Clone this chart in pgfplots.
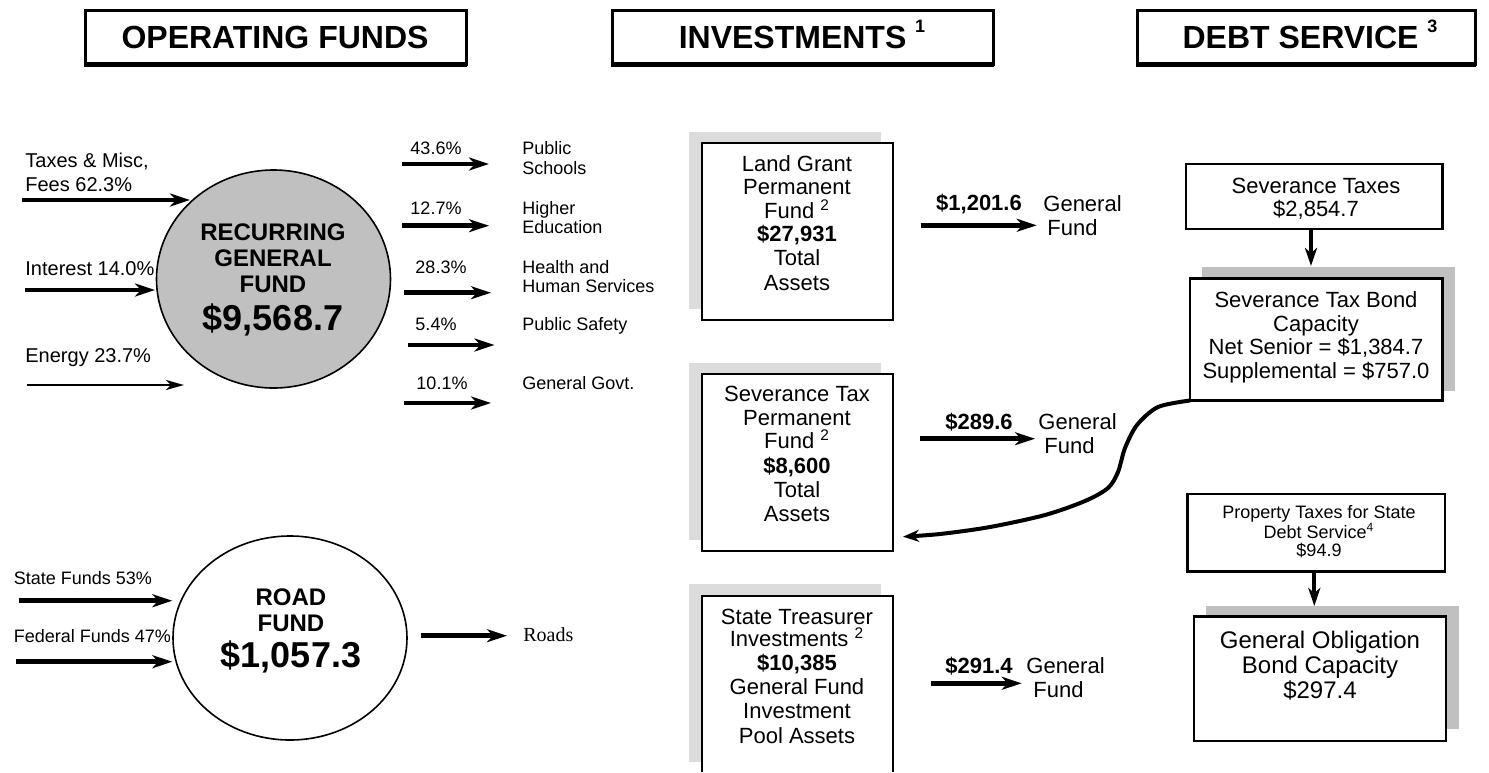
\documentclass[border=0pt]{standalone}
\usepackage{fontspec}
\setmainfont{Liberation Sans}
\newfontfamily\seriffont{Liberation Serif}
\usepackage{pgfplots}
\pgfplotsset{compat=1.18}
\usetikzlibrary{arrows.meta}
\definecolor{shadelight}{HTML}{DCDCDC}
\definecolor{shadedark}{HTML}{C0C0C0}
\definecolor{fundgray}{HTML}{C0C0C0}
\newcommand\fs[2]{\fontsize{#1}{#2}\selectfont}
\newcommand\tsup[1]{\raisebox{0.5em}{\fs{9}{9}#1}}
\tikzset{
  bigarr/.style={line width=2.3pt,-{Stealth[length=10pt,width=6.5pt,inset=3pt]}},
  thinarr/.style={line width=1.2pt,-{Stealth[length=9pt,width=5pt,inset=2.5pt]}},
  downarr/.style={line width=2pt,-{Stealth[length=9pt,width=6pt,inset=2.5pt]}},
  t/.style={anchor=base,inner sep=0pt},
  tw/.style={anchor=base west,inner sep=0pt}}
\begin{document}
\begin{tikzpicture}
\begin{axis}[width=744.5pt,height=386pt,scale only axis,
  xmin=0,xmax=1489,ymin=0,ymax=772,y dir=reverse,hide axis,clip=false]
\addplot[draw=none] coordinates {(0,0) (1489,772)};
% ---------- title boxes
\draw[line width=1.5pt] (axis cs:85,10) rectangle (axis cs:466,64);
\draw[line width=2.5pt] (axis cs:84,64.5) -- (axis cs:467,64.5);
\draw[line width=1.5pt] (axis cs:612,10) rectangle (axis cs:993,64);
\draw[line width=2.5pt] (axis cs:611,64.5) -- (axis cs:994,64.5);
\draw[line width=1.5pt] (axis cs:1137,10) rectangle (axis cs:1475,64);
\draw[line width=2.5pt] (axis cs:1136,64.5) -- (axis cs:1476,64.5);
\node[t,font=\fs{16}{18}\bfseries] at (axis cs:275,48.5) {OPERATING FUNDS};
\node[t,font=\fs{16}{18}\bfseries] at (axis cs:802,48.5) {INVESTMENTS \tsup{1}};
\node[t,font=\fs{16}{18}\bfseries] at (axis cs:1310,48.5) {DEBT SERVICE \tsup{3}};
% ---------- recurring general fund
\draw[fill=fundgray,line width=0.8pt] (axis cs:273.5,279) ellipse [x radius=117, y radius=109];
\node[t,font=\fs{12}{14}\bfseries] at (axis cs:273,240) {RECURRING};
\node[t,font=\fs{12}{14}\bfseries] at (axis cs:273,266.3) {GENERAL};
\node[t,font=\fs{12}{14}\bfseries] at (axis cs:273,292) {FUND};
\node[t,font=\fs{18}{20}\bfseries] at (axis cs:273,330.3) {\$9,568.7};
\node[tw,font=\fs{10}{12}] at (axis cs:25,167) {Taxes \& Misc,};
\node[tw,font=\fs{10}{12}] at (axis cs:25,191) {Fees 62.3\%};
\node[tw,font=\fs{10}{12}] at (axis cs:25,275) {Interest 14.0\%};
\node[tw,font=\fs{10}{12}] at (axis cs:25,362) {Energy 23.7\%};
\addplot[bigarr] coordinates {(22,200) (190,200)};
\addplot[bigarr] coordinates {(25,290) (155,290)};
\addplot[thinarr] coordinates {(27,385) (184,385)};
% outputs
\addplot[bigarr] coordinates {(402,164) (489,164)};
\addplot[bigarr] coordinates {(402,225.7) (489,225.7)};
\addplot[bigarr] coordinates {(404,292.7) (491,292.7)};
\addplot[bigarr] coordinates {(407.5,345) (494.5,345)};
\addplot[bigarr] coordinates {(404,403) (491,403)};
\node[t,font=\fs{9}{10}] at (axis cs:436,154.5) {43.6\%};
\node[t,font=\fs{9}{10}] at (axis cs:436,214.5) {12.7\%};
\node[t,font=\fs{9}{10}] at (axis cs:441,273.5) {28.3\%};
\node[t,font=\fs{9}{10}] at (axis cs:436,330.5) {5.4\%};
\node[t,font=\fs{9}{10}] at (axis cs:442,389.5) {10.1\%};
\node[tw,font=\fs{9}{10}] at (axis cs:522,154.5) {Public};
\node[tw,font=\fs{9}{10}] at (axis cs:522,174.5) {Schools};
\node[tw,font=\fs{9}{10}] at (axis cs:522,214.5) {Higher};
\node[tw,font=\fs{9}{10}] at (axis cs:522,233.5) {Education};
\node[tw,font=\fs{9}{10}] at (axis cs:522,273.5) {Health and};
\node[tw,font=\fs{9}{10}] at (axis cs:522,292.5) {Human Services};
\node[tw,font=\fs{9}{10}] at (axis cs:522,330.5) {Public Safety};
\node[tw,font=\fs{9}{10}] at (axis cs:522,389.5) {General Govt.};
% ---------- road fund
\draw[fill=white,line width=0.8pt] (axis cs:290,638) ellipse [x radius=117, y radius=102];
\node[t,font=\fs{12}{14}\bfseries] at (axis cs:291,605.3) {ROAD};
\node[t,font=\fs{12}{14}\bfseries] at (axis cs:291,631) {FUND};
\node[t,font=\fs{18}{20}\bfseries] at (axis cs:291,667) {\$1,057.3};
\node[tw,font=\fs{9}{10}] at (axis cs:13.5,584.5) {State Funds 53\%};
\node[tw,font=\fs{9}{10}] at (axis cs:13.5,642.2) {Federal Funds 47\%};
\addplot[bigarr] coordinates {(18.6,600.7) (172.3,600.7)};
\addplot[bigarr] coordinates {(15.5,661.7) (172.3,661.7)};
\addplot[bigarr] coordinates {(421,635.7) (507,635.7)};
\node[tw,font=\fs{10}{12}\seriffont] at (axis cs:523,641) {Roads};
% ---------- investments
\fill[shadelight] (axis cs:689,131.7) rectangle (axis cs:881,309);
\draw[fill=white,line width=0.9pt] (axis cs:702,142.7) rectangle (axis cs:892.7,320);
\fill[shadelight] (axis cs:689,362.7) rectangle (axis cs:881,540);
\draw[fill=white,line width=0.9pt] (axis cs:702,374) rectangle (axis cs:892.7,550.7);
\fill[shadelight] (axis cs:689,584) rectangle (axis cs:881,762);
\fill[white] (axis cs:702,595.7) rectangle (axis cs:892.7,772);
\draw[line width=0.9pt] (axis cs:702,772) -- (axis cs:702,595.7) -- (axis cs:892.7,595.7) -- (axis cs:892.7,772);
\node[t,font=\fs{11}{12}] at (axis cs:797,171.3) {Land Grant};
\node[t,font=\fs{11}{12}] at (axis cs:797,194.7) {Permanent};
\node[t,font=\fs{11}{12}] at (axis cs:797,218) {Fund \textsuperscript{2}};
\node[t,font=\fs{11}{12}\bfseries] at (axis cs:797,241) {\$27,931};
\node[t,font=\fs{11}{12}] at (axis cs:797,265.7) {Total};
\node[t,font=\fs{11}{12}] at (axis cs:797,290) {Assets};
\node[t,font=\fs{11}{12}] at (axis cs:797,401.3) {Severance Tax};
\node[t,font=\fs{11}{12}] at (axis cs:797,425.3) {Permanent};
\node[t,font=\fs{11}{12}] at (axis cs:797,448.7) {Fund \textsuperscript{2}};
\node[t,font=\fs{11}{12}\bfseries] at (axis cs:797,473) {\$8,600};
\node[t,font=\fs{11}{12}] at (axis cs:797,497) {Total};
\node[t,font=\fs{11}{12}] at (axis cs:797,521.3) {Assets};
\node[t,font=\fs{11}{12}] at (axis cs:797,624) {State Treasurer};
\node[t,font=\fs{11}{12}] at (axis cs:797,646.3) {Investments \textsuperscript{2}};
\node[t,font=\fs{11}{12}\bfseries] at (axis cs:797,670.7) {\$10,385};
\node[t,font=\fs{11}{12}] at (axis cs:797,694.7) {General Fund};
\node[t,font=\fs{11}{12}] at (axis cs:797,718) {Investment};
\node[t,font=\fs{11}{12}] at (axis cs:797,743) {Pool Assets};
\addplot[bigarr] coordinates {(920.7,225.3) (1036.7,225.3)};
\addplot[bigarr] coordinates {(920,438.7) (1035,438.7)};
\addplot[bigarr] coordinates {(930.7,683.3) (1021.7,683.3)};
\node[t,font=\fs{11}{12}\bfseries] at (axis cs:979,210.7) {\$1,201.6};
\node[tw,font=\fs{11}{12}] at (axis cs:1043,211) {General};
\node[tw,font=\fs{11}{12}] at (axis cs:1047,235) {Fund};
\node[t,font=\fs{11}{12}\bfseries] at (axis cs:979,429) {\$289.6};
\node[tw,font=\fs{11}{12}] at (axis cs:1038,429) {General};
\node[tw,font=\fs{11}{12}] at (axis cs:1044,453) {Fund};
\node[t,font=\fs{11}{12}\bfseries] at (axis cs:979,673) {\$291.4};
\node[tw,font=\fs{11}{12}] at (axis cs:1026,673) {General};
\node[tw,font=\fs{11}{12}] at (axis cs:1033,697.3) {Fund};
% ---------- debt service
\draw[fill=white,line width=1.3pt] (axis cs:1186,164) rectangle (axis cs:1442.7,229);
\node[t,font=\fs{11}{12}] at (axis cs:1316,193) {Severance Taxes};
\node[t,font=\fs{11}{12}] at (axis cs:1316,216.3) {\$2,854.7};
\addplot[downarr] coordinates {(1311,229) (1311,266)};
\fill[shadedark] (axis cs:1201.7,266.7) rectangle (axis cs:1455,390.7);
\draw[fill=white,line width=1.3pt] (axis cs:1190,278.3) rectangle (axis cs:1442.7,400.7);
\node[t,font=\fs{11}{12}] at (axis cs:1316,307) {Severance Tax Bond};
\node[t,font=\fs{11}{12}] at (axis cs:1316,331.3) {Capacity};
\node[t,font=\fs{11}{12}] at (axis cs:1316,354.7) {Net Senior = \$1,384.7};
\node[t,font=\fs{11}{12}] at (axis cs:1316,378) {Supplemental = \$757.0};
\addplot[line width=2pt,smooth,-{Stealth[length=8pt,width=6pt,inset=2.5pt]}] coordinates {
 (1190,400.5) (1158,407) (1137,425) (1125,448) (1118,472) (1108,488) (1085,501) (1045,515) (990,527) (940,534) (903,536.7)};
\draw[fill=white,line width=1.3pt] (axis cs:1187.3,494) rectangle (axis cs:1445,571.7);
\node[t,font=\fs{9}{10}] at (axis cs:1319,518.8) {Property Taxes for State};
\node[t,font=\fs{9}{10}] at (axis cs:1319,538.8) {Debt Service\textsuperscript{4}};
\node[t,font=\fs{9}{10}] at (axis cs:1319,556.5) {\$94.9};
\addplot[downarr] coordinates {(1314.3,571.7) (1314.3,606)};
\fill[shadedark] (axis cs:1206,606) rectangle (axis cs:1459.3,729.3);
\draw[fill=white,line width=1.3pt] (axis cs:1194,616.7) rectangle (axis cs:1446,741);
\node[t,font=\fs{12}{14}] at (axis cs:1320,648) {General Obligation};
\node[t,font=\fs{12}{14}] at (axis cs:1320,673.6) {Bond Capacity};
\node[t,font=\fs{12}{14}] at (axis cs:1320,698.6) {\$297.4};
\end{axis}
\end{tikzpicture}
\end{document}
